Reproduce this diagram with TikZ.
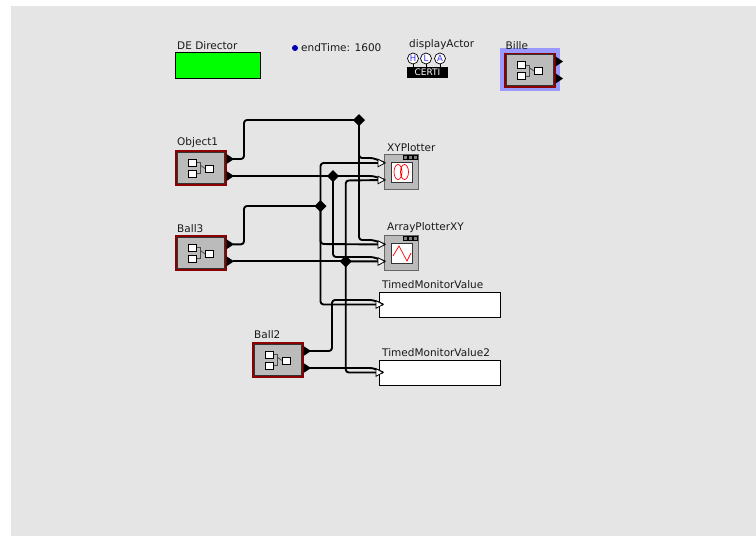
\documentclass[tikz,border=0pt]{standalone}
\usepackage{fontspec}
\setmainfont{DejaVu Sans}
\usetikzlibrary{calc}
\definecolor{canvas}{HTML}{E5E5E5}
\definecolor{actorgray}{HTML}{BBBBBB}
\definecolor{darkred}{HTML}{8B0000}
\definecolor{halo}{HTML}{9999FF}
\tikzset{
  x=1pt,y=-1pt,
  lbl/.style={anchor=base west,inner sep=0pt,font=\fontsize{10.5}{12}\selectfont,text=black!90},
  wire/.style={draw=black,line width=1.9pt,rounded corners=3pt,line join=round},
  straightwire/.style={draw=black,line width=1.9pt},
  relation/.style={draw=none,fill=black,minimum size=0pt,inner sep=0pt},
  boxn/.style={inner sep=0pt,outer sep=0pt,anchor=north west},
  thinbox/.style={draw=black,line width=.8pt,fill=white},
  portin/.style={fill=white,draw=black,line width=.8pt},
}
% name, left, top
\newcommand{\compositeactor}[3]{%
  \node[boxn,fill=darkred,minimum width=52pt,minimum height=35.5pt] (#1) at (#2,#3) {};
  \node[boxn,draw=black!80,line width=.7pt,fill=actorgray,minimum width=47.5pt,minimum height=31pt] (#1in) at (#2+2.2,#3+2.2) {};
  \node[boxn,thinbox,minimum width=8.5pt,minimum height=7pt] (#1a) at (#2+13,#3+9) {};
  \node[boxn,thinbox,minimum width=8.5pt,minimum height=7pt] (#1b) at (#2+13,#3+20) {};
  \node[boxn,thinbox,minimum width=8.5pt,minimum height=7pt] (#1c) at (#2+30,#3+15) {};
  \draw[black!70,line width=.8pt] (#1a.east) -| ($(#1a.east)!.5!(#1c.west)$) |- (#1b.east);
  \draw[black!70,line width=.8pt] ($(#1a.east)!.5!(#1c.west)$ |- #1c.west) -- (#1c.west);
  \coordinate (#1p) at (#2+58,#3+9);
  \coordinate (#1q) at (#2+58,#3+26);
  \fill[black] (#2+51.5,#3+4) -- (#2+59,#3+9) -- (#2+51.5,#3+14) -- cycle;
  \fill[black] (#2+51.5,#3+21) -- (#2+59,#3+26) -- (#2+51.5,#3+31) -- cycle;
}
% name, left, top
\newcommand{\plotter}[3]{%
  \node[boxn,draw=black!60,line width=.8pt,fill=actorgray,minimum width=34.5pt,minimum height=35pt] (#1) at (#2,#3) {};
  \node[boxn,draw=black!80,line width=.8pt,fill=white,minimum width=21pt,minimum height=20pt] (#1s) at (#2+7,#3+8) {};
  \foreach \d in {19,24,29}{\draw[black,fill=black!50,line width=.6pt] (#2+\d,#3+1.2) rectangle +(4,4);}
  \coordinate (#1p) at (#2+1,#3+9);
  \coordinate (#1q) at (#2+1,#3+26);
}
\newcommand{\inport}[1]{\draw[portin] ($(#1)+(-7,-3.8)$) -- (#1) -- ($(#1)+(-7,3.8)$) -- cycle;}
\begin{document}
\begin{tikzpicture}
\useasboundingbox (0,0) rectangle (756,536);
\fill[white] (0,0) rectangle (756,536);
\node[boxn,fill=canvas,minimum width=745pt,minimum height=530pt] (bg) at (11,6) {};

% director and parameter
\node[boxn,draw=black,line width=.8pt,fill=green,minimum width=85.5pt,minimum height=26pt] (dir) at (175,52) {};
\node[lbl] (dirl) at (177,49) {DE Director};
\fill[blue!70!black] (295,48) circle (3);
\node[lbl] (endt) at (301,51) {endTime: 1600};

% HLA actor
\node[lbl] (dal) at (409,47) {displayActor};
\foreach \n/\cx/\t in {h/413/H,l/426/L,a/440/A}{
  \draw[black,line width=.6pt] (\cx,62) -- (\cx,68);
  \node[circle,draw=black,line width=.7pt,fill=white,minimum size=11pt,inner sep=0pt,text=blue!80,font=\fontsize{8.5}{9}\selectfont] (\n) at (\cx,58.5) {\t};
}
\node[boxn,fill=black,minimum width=41pt,minimum height=11pt,text=white,font=\fontsize{9}{10}\selectfont,align=center] (certi) at (407,67) {CERTI};

% composite actors
\node[boxn,fill=halo,minimum width=60pt,minimum height=43pt] (billeh) at (499.5,48) {};
\compositeactor{bille}{504}{52.5}
\node[lbl] (billel) at (505.5,49) {Bille};
\compositeactor{obj}{175}{150}
\node[lbl] (objl) at (177,145) {Object1};
\compositeactor{ballc}{175}{235.3}
\node[lbl] (ballcl) at (177,232) {Ball3};
\compositeactor{ballb}{252}{342}
\node[lbl] (ballbl) at (254,338.5) {Ball2};

% sinks
\plotter{xy}{384}{154}
\node[lbl] (xyl) at (387,151) {XYPlotter};
\draw[red,line width=.7pt] (398,172) ellipse (4 and 7.5) (404.5,172) ellipse (4 and 7.5);
\plotter{ar}{384}{235.5}
\node[lbl] (arl) at (387,230) {ArrayPlotterXY};
\draw[red,line width=.7pt] (393,256) -- (399,246) -- (407,261) -- (411,253);
\node[boxn,draw=black,line width=.8pt,fill=white,minimum width=121.5pt,minimum height=25.5pt] (tm) at (379,292) {};
\node[lbl] (tml) at (382,288) {TimedMonitorValue};
\node[boxn,draw=black,line width=.8pt,fill=white,minimum width=121.5pt,minimum height=25.5pt] (tmb) at (379,360) {};
\node[lbl] (tmbl) at (382,356) {TimedMonitorValue2};
\coordinate (tmp) at (383,304.5);
\coordinate (tmbp) at (383,372.5);

% relations
\node[relation] (d1) at (359,120) {};
\node[relation] (d2) at (333,176) {};
\node[relation] (d3) at (320.5,206) {};
\node[relation] (d4) at (345.7,261.3) {};

% wires
\draw[wire] (objp) -- (244,159) -- (244,120) -- (d1);
\draw[wire] (d1) -- (359,158) -- (373,158) -- (xyp);
\draw[wire] (d1) -- (359,240) -- (373,240) -- (arp);
\draw[straightwire] (objq) -- (d2);
\draw[wire] (d2) -- (373,176) -- (xyq);
\draw[wire] (d2) -- (333,257) -- (373,257) -- (arq);
\draw[wire] (ballcp) -- (244,244.3) -- (244,206) -- (d3);
\draw[wire] (d3) -- (320.5,163) -- (xyp);
\draw[wire] (d3) -- (320.5,244) -- (arp);
\draw[wire] (d3) -- (320.5,304.5) -- (tmp);
\draw[straightwire] (ballcq) -- (d4);
\draw[wire] (d4) -- (373,261.3) -- (arq);
\draw[wire] (d4) -- (345.7,180.5) -- (xyq);
\draw[wire] (d4) -- (345.7,372.5) -- (tmbp);
\draw[wire] (ballbp) -- (332,351) -- (332,300) -- (373,300) -- (tmp);
\draw[wire] (ballbq) -- (373,368) -- (tmbp);

\foreach \d in {d1,d2,d3,d4}{\fill[black] ($(\d)+(-6,0)$) -- ($(\d)+(0,-6)$) -- ($(\d)+(6,0)$) -- ($(\d)+(0,6)$) -- cycle;}
\inport{xyp}\inport{xyq}\inport{arp}\inport{arq}\inport{tmp}\inport{tmbp}
\end{tikzpicture}
\end{document}
